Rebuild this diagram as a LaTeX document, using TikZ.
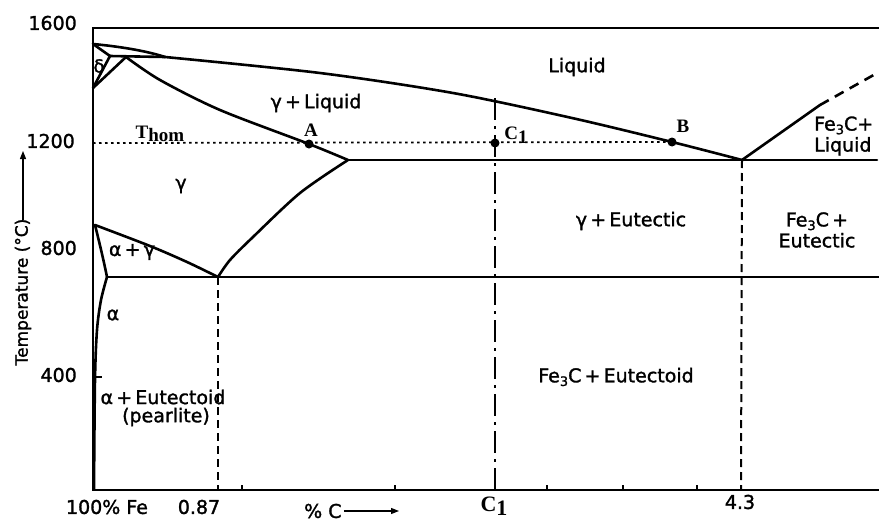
\documentclass[tikz,border=0pt]{standalone}
\usepackage{fontspec}
\setmainfont{DejaVu Sans}[FakeBold=1.5]
\newfontfamily\serifbf{Liberation Serif}
\usetikzlibrary{arrows.meta}
\newcommand\FeC{Fe\raisebox{-0.35ex}{\fontsize{13}{13}\selectfont 3}C}
\begin{document}
\begin{tikzpicture}[x=1pt,y=-1pt,
  phase/.style={line width=2.6pt, line join=round, line cap=round},
  framel/.style={line width=2.6pt, line join=miter},
  dotl/.style={line width=1.8pt, dash pattern=on 2.5pt off 3.5pt},
  dashdotl/.style={line width=2pt, dash pattern=on 22pt off 6pt on 3pt off 6pt},
  dashl/.style={line width=2pt, dash pattern=on 8pt off 5pt},
  dashliq/.style={line width=2.6pt, dash pattern=on 10pt off 7pt},
  tickl/.style={line width=1.2pt},
  lbl/.style={inner sep=0pt, font=\fontsize{19}{21}\selectfont},
  num/.style={inner sep=0pt, anchor=east, font=\fontsize{19}{21}\selectfont},
  serl/.style={inner sep=0pt, font=\serifbf\bfseries\fontsize{19}{21}\selectfont},
  pt/.style={fill=black}
]
\useasboundingbox (0,0) rectangle (879,522);
% key points
\coordinate (TL) at (93,28);
\coordinate (TR) at (879,28);
\coordinate (O) at (93,490);
\coordinate (BR) at (879,490);
\coordinate (dL) at (93,44);
\coordinate (dB) at (93,88);
\coordinate (P1) at (110,56);
\coordinate (P2) at (126,57);
\coordinate (P3) at (165,57);
\coordinate (E) at (742,160);
\coordinate (Es) at (348,160);
\coordinate (ER) at (877,160);
\coordinate (S) at (218,277);
\coordinate (SL) at (107,277);
\coordinate (SR) at (879,277);
\coordinate (G) at (95,225);
\coordinate (Fm) at (820,105);
\coordinate (Fe) at (879,72);
\coordinate (A) at (309,144);
\coordinate (C) at (495,143);
\coordinate (B) at (672,142);
\coordinate (T0) at (93,143);
\coordinate (Ctop) at (495,98);
\coordinate (Cbot) at (495,490);
\coordinate (Sbot) at (218,490);
\coordinate (Ebot) at (741,490);
% frame / axes
\draw[framel] (TR) -- (TL) -- (O) -- (BR);
% delta region
\draw[phase] (dL) .. controls (125,47) and (150,52) .. (P3);
\draw[phase] (dL) -- (P1);
\draw[phase] (P1) -- (P3);
\draw[phase] (dB) -- (P1);
\draw[phase] (dB) -- (P2);
% liquidus
\draw[phase] plot[smooth] coordinates {(165,57) (320,73) (453,93) (572,118) (672,142) (742,160)};
% gamma solidus
\draw[phase] plot[smooth] coordinates {(126,57) (160,80) (220,110) (309,144) (348,160)};
% eutectic line
\draw[phase] (Es) -- (ER);
% Acm
\draw[phase] plot[smooth] coordinates {(348,160) (300,193) (253,237) (230,260) (218,277)};
% A3
\draw[phase] plot[smooth] coordinates {(95,225) (150,246) (187,262) (218,277)};
% eutectoid line
\draw[phase] (SL) -- (SR);
% alpha boundaries
\draw[phase] (G) .. controls (100,245) and (104,262) .. (SL);
\draw[phase] plot[smooth] coordinates {(107,277) (101,300) (97,330) (95,380) (94,489)};
% Fe3C liquidus
\draw[phase] (E) -- (Fm);
\draw[dashliq] (Fm) -- (Fe);
% verticals
\draw[dashl] (S) -- (Sbot);
\draw[dashl] (E) -- (Ebot);
\draw[dashdotl] (Ctop) -- (Cbot);
% Thom line
\draw[dotl] (T0) -- (B);
\fill[pt] (A) circle (4.5pt);
\fill[pt] (C) circle (4.5pt);
\fill[pt] (B) circle (4.5pt);
% ticks
\foreach \x in {242,395,547,623,697} \draw[tickl] (\x,490) -- (\x,485);
\draw[tickl] (93,377) -- (102,377);
% axis numbers
\node[num] (n1600) at (77,23) {1600};
\node[num] (n1200) at (75,141) {1200};
\node[num] (n800) at (77,248) {800};
\node[num] (n400) at (77,375) {400};
% y label
\node[inner sep=0pt, rotate=90, font=\fontsize{17}{19}\selectfont] (ylab) at (23,292) {Temperature (°C)};
\coordinate (yarr) at (23,151);
\draw[line width=1.3pt, -{Triangle[length=8pt,width=6pt]}] ([yshift=-2pt]ylab.east) -- (yarr);
% bottom labels
\node[lbl] (fe) at (107,507) {100\% Fe};
\node[lbl] (n087) at (199,507) {0.87};
\node[lbl] (n43) at (740,502) {4.3};
\node[lbl, anchor=west] (pc) at (304,511) {\% C};
\coordinate (xarr) at (399,511);
\draw[line width=1.3pt, -{Triangle[length=8pt,width=6pt]}] ([xshift=2pt]pc.east) -- (xarr);
\node[inner sep=0pt, font=\serifbf\bfseries\fontsize{22}{24}\selectfont] (c1b) at (494,506) {C\raisebox{-0.4ex}{1}};
% phase labels
\node[lbl, font=\fontsize{18}{20}\selectfont] (delta) at (99,66) {δ};
\node[lbl] (liq) at (577,67) {Liquid};
\node[lbl] (gl) at (316,103) {γ\,+\,Liquid};
\node[serl] (thom) at (160,134) {T\raisebox{-0.35ex}{hom}};
\node[serl] (lA) at (311,130) {A};
\node[serl] (lC) at (516,135) {C\raisebox{-0.4ex}{1}};
\node[serl] (lB) at (683,126) {B};
\node[lbl] (gam) at (181,186) {γ};
\node[lbl] (ge) at (631,221) {γ\,+\,Eutectic};
\node[lbl, align=center] (fce) at (817,230) {\FeC\,+\\Eutectic};
\node[lbl, align=left, anchor=west] (fcl) at (814,136) {\FeC+\\Liquid};
\node[lbl] (ag) at (132,252) {α\,+\,γ};
\node[lbl] (al) at (113,315) {α};
\node[lbl] (ae) at (163,397) {α\,+\,Eutectoid};
\node[lbl] (pe) at (166,417) {(pearlite)};
\node[lbl] (fceo) at (616,377) {\FeC\,+\,Eutectoid};
\end{tikzpicture}
\end{document}
